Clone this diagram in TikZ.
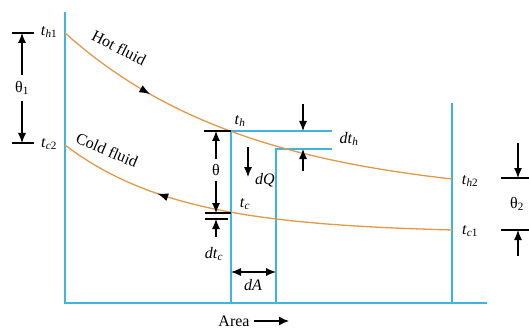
\documentclass[tikz,border=0pt]{standalone}
\usepackage{fontspec}
\setmainfont{Liberation Serif}
\usetikzlibrary{arrows.meta,decorations.markings}
\definecolor{axisblue}{RGB}{60,182,222}
\definecolor{fluidorange}{RGB}{226,152,72}
\tikzset{
  axisline/.style={axisblue, line width=1.8pt},
  fluid/.style={fluidorange, line width=1.3pt},
  tickline/.style={black, line width=1.3pt},
  dimarrow/.style={black, line width=1.1pt, -{Latex[length=10pt,width=8pt]}},
  lbl/.style={font=\fontsize{16}{18}\selectfont, inner sep=0pt},
  flowtip/.style={decoration={markings, mark=at position #1 with {\arrow[black]{Latex[length=11pt,width=8pt]}}}, postaction={decorate}},
  flowtiprev/.style={decoration={markings, mark=at position #1 with {\arrowreversed[black]{Latex[length=11pt,width=8pt]}}}, postaction={decorate}},
}
\newcommand{\tl}[1]{\textit{t}\textsubscript{#1}}
\begin{document}
\begin{tikzpicture}[x=1pt,y=-1pt]
\useasboundingbox (0,0) rectangle (529,331);
% frame coordinates
\coordinate (Ltop) at (65,12);
\coordinate (O) at (65,303);
\coordinate (Rend) at (487,303);
\coordinate (Rtop) at (452,103);
\coordinate (Rbot) at (452,303);
\coordinate (Atop) at (231,131);
\coordinate (Abot) at (231,303);
\coordinate (Btop) at (276,149);
\coordinate (Bbot) at (276,303);
\coordinate (Aright) at (332,131);
\coordinate (Bright) at (332,149);
% blue lines
\draw[axisline] (Ltop) -- (O) -- (Rend);
\draw[axisline] (Rtop) -- (Rbot);
\draw[axisline] (Aright) -- (Atop) -- (Abot);
\draw[axisline] (Bright) -- (Btop) -- (Bbot);
% fluid curves
\draw[fluid, flowtip=0.25] plot[domain=65:452, samples=80] (\x, {200-167*exp(-0.00536*(\x-65))});
\draw[fluid, flowtiprev=0.26] plot[domain=65:452, samples=80] (\x, {233-88*exp(-0.0087*(\x-65))});
% curve labels
\node[lbl, rotate=-27] (hotlbl) at (119,48) {Hot fluid};
\node[lbl, rotate=-23] (coldlbl) at (107,150) {Cold fluid};
% left dimension
\coordinate (LT1) at (12,33); \coordinate (LT2) at (34,33);
\coordinate (LB1) at (12,143); \coordinate (LB2) at (34,143);
\coordinate (LTa) at (22,33); \coordinate (LBa) at (22,143);
\draw[tickline] (LT1) -- (LT2);
\draw[tickline] (LB1) -- (LB2);
\node[lbl] (theta1) at (22,88) {θ\textsubscript{1}};
\draw[dimarrow] (theta1.north) ++(0,-6) -- (LTa);
\draw[dimarrow] (theta1.south) ++(0,6) -- (LBa);
\node[lbl] (th1) at (49,32) {\tl{\textit{h}1}};
\node[lbl] (tc2) at (49,144) {\tl{\textit{c}2}};
% right dimension
\coordinate (RT1) at (501,178); \coordinate (RT2) at (529,178);
\coordinate (RB1) at (501,230); \coordinate (RB2) at (529,230);
\coordinate (RTa) at (518,178); \coordinate (RBa) at (518,230);
\coordinate (RTs) at (518,143); \coordinate (RBs) at (518,256);
\draw[tickline] (RT1) -- (RT2);
\draw[tickline] (RB1) -- (RB2);
\draw[dimarrow] (RTs) -- (RTa);
\draw[dimarrow] (RBs) -- (RBa);
\node[lbl] (theta2) at (517,204) {θ\textsubscript{2}};
\node[lbl] (th2) at (470,181) {\tl{\textit{h}2}};
\node[lbl] (tc1) at (470,231) {\tl{\textit{c}1}};
% middle theta
\coordinate (MT1) at (204,131);
\coordinate (MC1) at (205,213); \coordinate (MC2) at (231,213);
\coordinate (MD1) at (205,219); \coordinate (MD2) at (228,219);
\coordinate (MTa) at (216,131); \coordinate (MCa) at (216,213);
\coordinate (MDa) at (216,219); \coordinate (MDs) at (216,237);
\draw[tickline] (MT1) -- (Atop);
\draw[tickline] (MC1) -- (MC2);
\draw[tickline] (MD1) -- (MD2);
\node[lbl] (theta) at (216,170) {θ};
\draw[dimarrow] (theta.north) ++(0,-5) -- (MTa);
\draw[dimarrow] (theta.south) ++(0,5) -- (MCa);
\draw[dimarrow] (MDs) -- (MDa);
\node[lbl] (dtc) at (214,254) {\textit{dt}\textsubscript{\textit{c}}};
\node[lbl] (th) at (240,121) {\tl{\textit{h}}};
\node[lbl] (tc) at (245,204) {\tl{\textit{c}}};
% dt_h
\coordinate (DH1s) at (303,104); \coordinate (DH1e) at (303,131);
\coordinate (DH2s) at (303,171); \coordinate (DH2e) at (303,149);
\draw[dimarrow] (DH1s) -- (DH1e);
\draw[dimarrow] (DH2s) -- (DH2e);
\node[lbl] (dth) at (349,139) {\textit{dt}\textsubscript{\textit{h}}};
% dQ
\coordinate (DQs) at (248,147); \coordinate (DQe) at (248,177);
\draw[dimarrow] (DQs) -- (DQe);
\node[lbl] (dq) at (265,180) {\textit{dQ}};
% dA
\coordinate (DAl) at (231,272); \coordinate (DAr) at (276,272);
\draw[black, line width=1.1pt, {Latex[length=10pt,width=8pt]}-{Latex[length=10pt,width=8pt]}] (DAl) -- (DAr);
\node[lbl] (da) at (253,285) {\textit{dA}};
% Area
\node[lbl] (area) at (234,321) {Area};
\coordinate (ARe) at (289,321);
\draw[black, line width=1.4pt, -{Latex[length=10pt,width=9pt]}] (area.east) ++(4,0) -- (ARe);
\end{tikzpicture}
\end{document}
